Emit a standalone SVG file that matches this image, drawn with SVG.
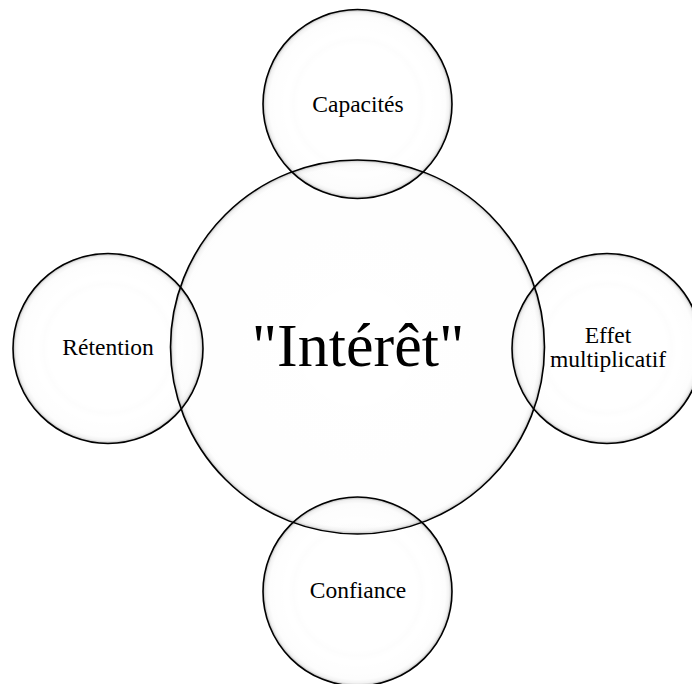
<svg xmlns="http://www.w3.org/2000/svg" width="692" height="684" viewBox="0 0 692 684">
  <style>
    .bubble { fill: url(#shade); stroke: #000; stroke-width: 1.6; }
    .big { fill: url(#shadeBig); }
    .lbl { font-family: "Liberation Serif", "Times New Roman", serif; font-size: 23.5px; fill: #000; text-anchor: middle; }
    .main { font-family: "Liberation Serif", "Times New Roman", serif; font-size: 62px; fill: #000; text-anchor: middle; }
  </style>
  <defs>
    <radialGradient id="shade" cx="0.5" cy="0.5" r="0.5">
      <stop offset="0" stop-color="#000000" stop-opacity="0"/>
      <stop offset="0.62" stop-color="#000000" stop-opacity="0"/>
      <stop offset="0.68" stop-color="#000000" stop-opacity="0.008"/>
      <stop offset="0.74" stop-color="#000000" stop-opacity="0"/>
      <stop offset="0.93" stop-color="#000000" stop-opacity="0.008"/>
      <stop offset="0.97" stop-color="#000000" stop-opacity="0.05"/>
      <stop offset="1" stop-color="#000000" stop-opacity="0.3"/>
    </radialGradient>
    <radialGradient id="shadeBig" cx="0.5" cy="0.5" r="0.5">
      <stop offset="0" stop-color="#000000" stop-opacity="0"/>
      <stop offset="0.965" stop-color="#000000" stop-opacity="0.006"/>
      <stop offset="0.985" stop-color="#000000" stop-opacity="0.05"/>
      <stop offset="1" stop-color="#000000" stop-opacity="0.28"/>
    </radialGradient>
  </defs>
  <rect width="692" height="684" fill="#ffffff"/>
  <g id="node-center">
    <circle class="bubble big" cx="357.5" cy="347" r="187"/>
    <text class="main" x="358" y="366">"Intérêt"</text>
  </g>
  <g id="node-capacites">
    <circle class="bubble" cx="357.5" cy="104" r="94.5"/>
    <text class="lbl" x="358" y="112">Capacités</text>
  </g>
  <g id="node-retention">
    <circle class="bubble" cx="108" cy="348.5" r="95"/>
    <text class="lbl" x="108" y="355">Rétention</text>
  </g>
  <g id="node-effet">
    <circle class="bubble" cx="607" cy="348.5" r="95"/>
    <text class="lbl" x="608" y="343">Effet</text>
    <text class="lbl" x="608" y="366.5">multiplicatif</text>
  </g>
  <g id="node-confiance">
    <circle class="bubble" cx="357.5" cy="591.5" r="94.5"/>
    <text class="lbl" x="358" y="598">Confiance</text>
  </g>
  <g id="connectors"></g>
</svg>
